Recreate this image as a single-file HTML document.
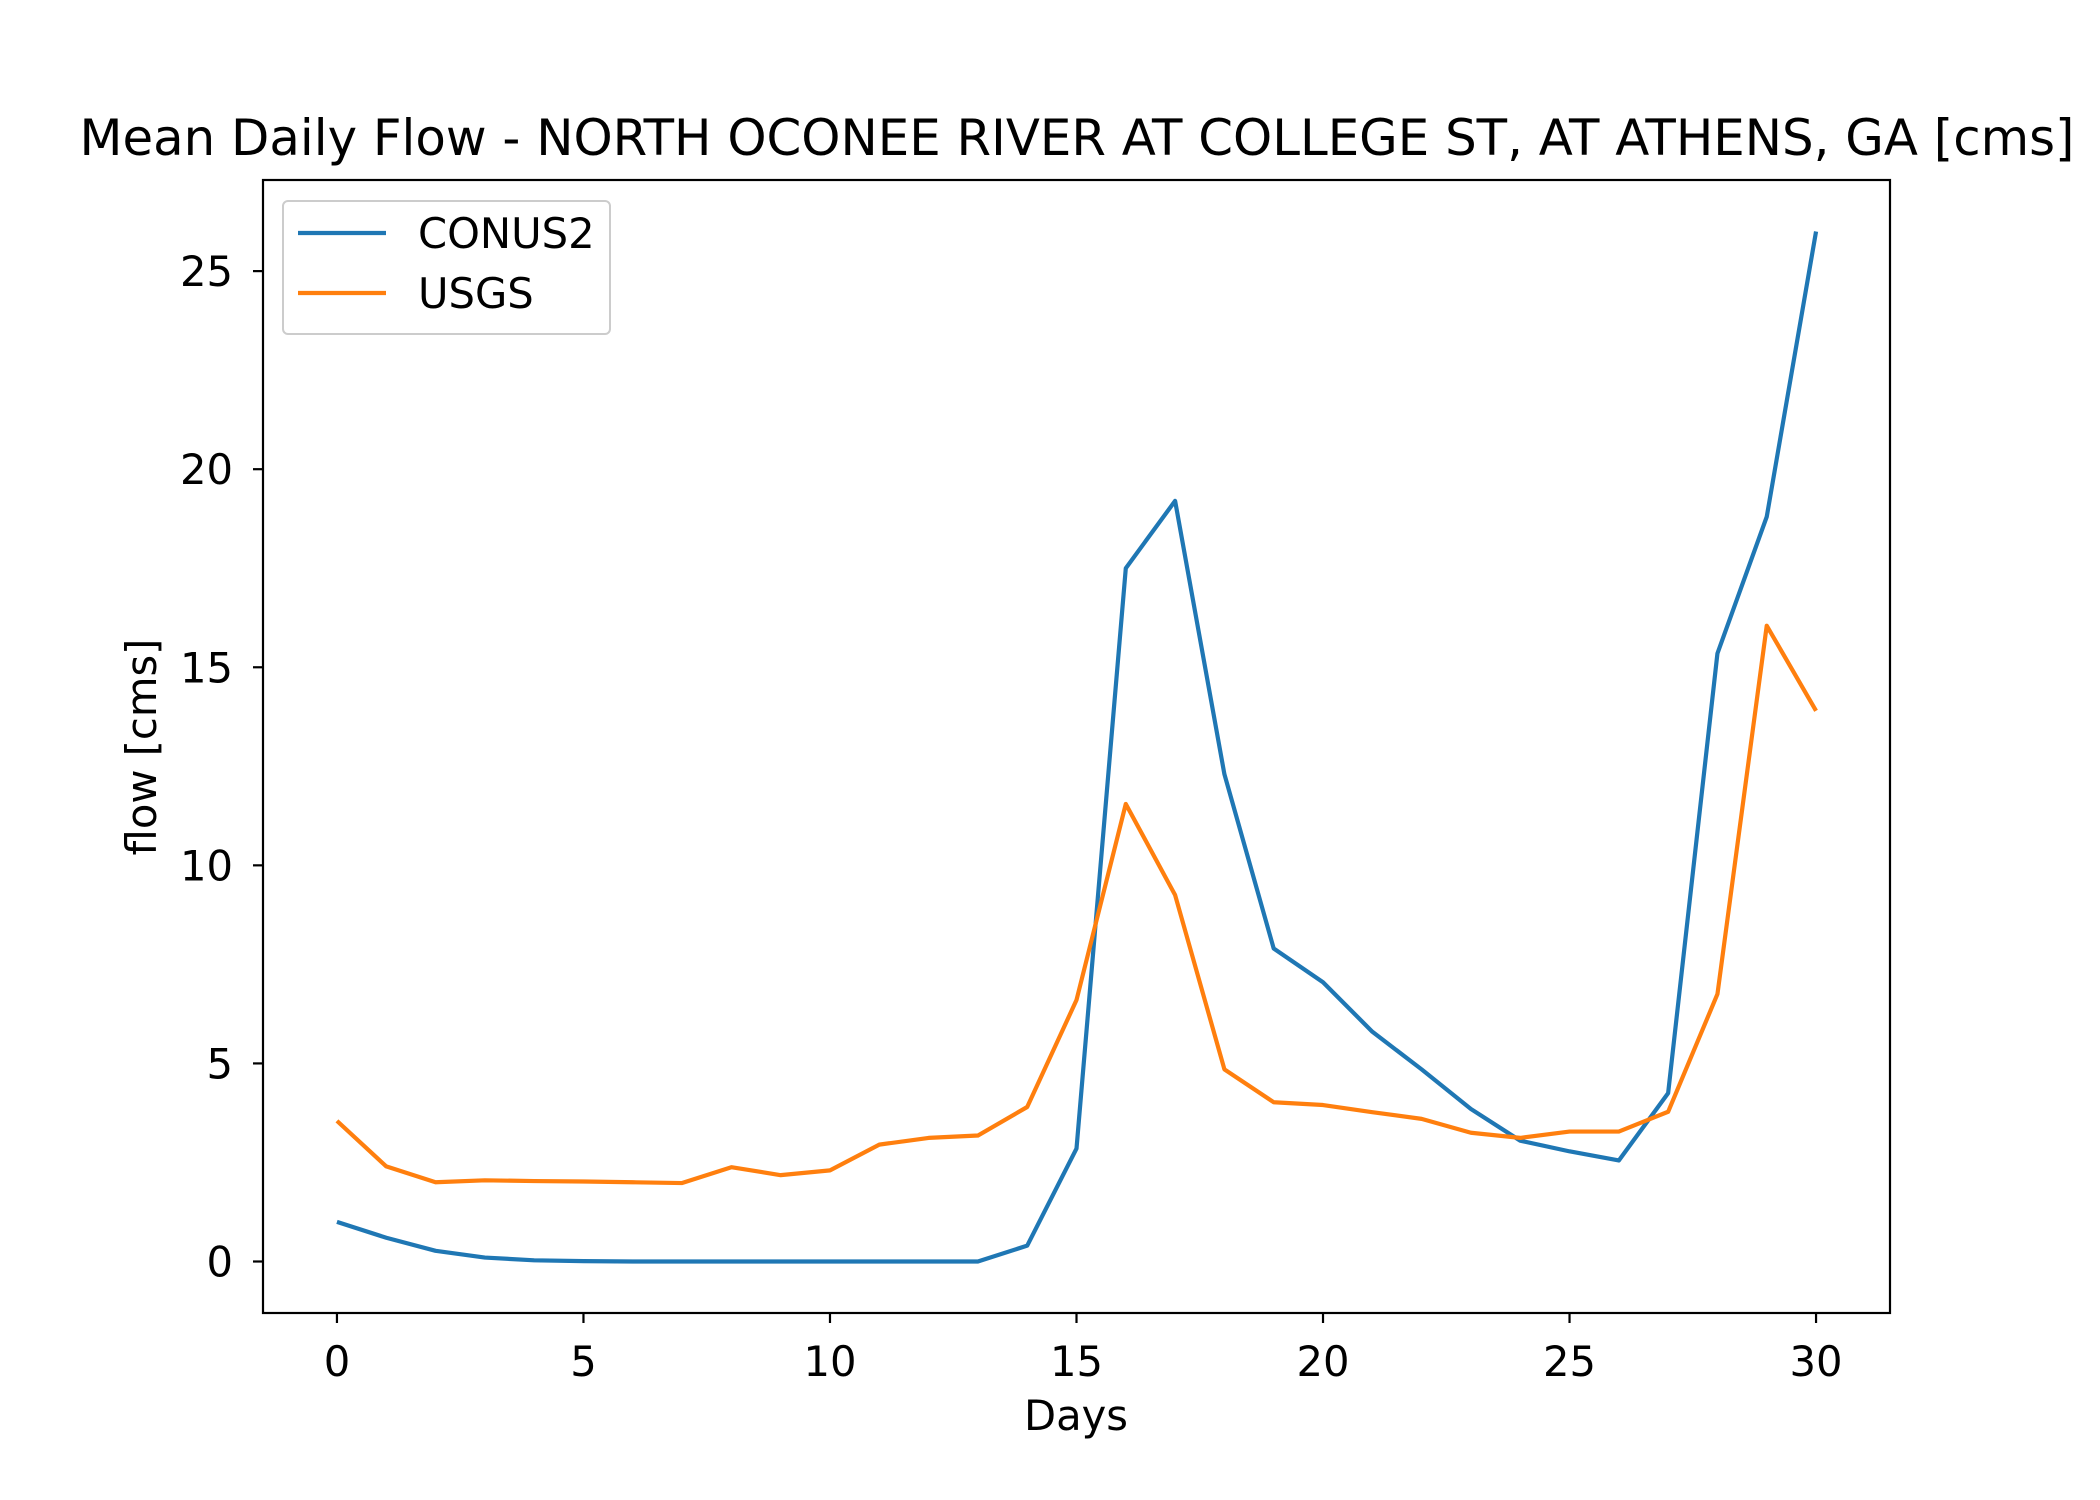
<!DOCTYPE html>
<html><head><meta charset="utf-8"><style>
html,body{margin:0;padding:0;background:#fff;}
svg{display:block;font-family:"DejaVu Sans","Liberation Sans",sans-serif;}
</style></head><body>
<svg id="chart" width="2100" height="1500" viewBox="0 0 2100 1500" xmlns="http://www.w3.org/2000/svg">
<rect x="0" y="0" width="2100" height="1500" fill="#fff"/>
<text x="1077" y="155" font-size="50" text-anchor="middle" textLength="1995" lengthAdjust="spacingAndGlyphs">Mean Daily Flow - NORTH OCONEE RIVER AT COLLEGE ST, AT ATHENS, GA [cms]</text>
<g id="plot"></g>
<text x="1076" y="1430" font-size="41.7" text-anchor="middle">Days</text>
<text x="0" y="0" font-size="41.7" text-anchor="middle" transform="translate(156,747) rotate(-90)">flow [cms]</text>
<g>
<rect x="283" y="201" width="327" height="133" rx="5" fill="#fff" stroke="#ccc" stroke-width="2"/>
<line x1="298" y1="233" x2="386" y2="233" stroke="#1f77b4" stroke-width="4.2"/>
<text x="418" y="248" font-size="41.7">CONUS2</text>
<line x1="298" y1="293" x2="386" y2="293" stroke="#ff7f0e" stroke-width="4.2"/>
<text x="418" y="308" font-size="41.7">USGS</text>
</g>
</svg>
<script>
const days = [0,1,2,3,4,5,6,7,8,9,10,11,12,13,14,15,16,17,18,19,20,21,22,23,24,25,26,27,28,29,30];
const conus2 = [1.0,0.6,0.27,0.1,0.03,0.01,0,0,0,0,0,0,0,0,0.4,2.85,17.5,19.2,12.3,7.9,7.05,5.8,4.85,3.85,3.05,2.78,2.55,4.25,15.35,18.8,26.0];
const usgs = [3.55,2.4,2.0,2.05,2.03,2.02,2.0,1.98,2.38,2.18,2.3,2.95,3.12,3.18,3.9,6.6,11.55,9.25,4.85,4.02,3.95,3.77,3.6,3.25,3.12,3.28,3.28,3.78,6.75,16.05,13.9];
const xTicks = [0,5,10,15,20,25,30];
const yTicks = [0,5,10,15,20,25];

const L=263,R=1890,T=180,B=1313;
const xMin=-1.5,xMax=31.5,yMin=-1.3,yMax=27.3;
const xs=v=>L+(v-xMin)/(xMax-xMin)*(R-L);
const ys=v=>B-(v-yMin)/(yMax-yMin)*(B-T);
const NS='http://www.w3.org/2000/svg';
const g=document.getElementById('plot');
function mk(tag,attrs){const e=document.createElementNS(NS,tag);for(const k in attrs)e.setAttribute(k,attrs[k]);g.appendChild(e);return e;}

function series(vals,color,name){
  const p=mk('polyline',{points:vals.map((v,i)=>xs(days[i])+','+ys(v)).join(' '),fill:'none',stroke:color,'stroke-width':4.2,'stroke-linejoin':'round'});
  
  
}
series(conus2,'#1f77b4','conus2-line');
series(usgs,'#ff7f0e','usgs-line');

const frame=mk('rect',{x:L,y:T,width:R-L,height:B-T,fill:'none',stroke:'#000','stroke-width':2.2});



xTicks.forEach(t=>{
  const x=xs(t);
  const tk=mk('line',{x1:x,y1:B,x2:x,y2:B+10,stroke:'#000','stroke-width':2.2});
  
  
  const lb=mk('text',{x:x,y:1376,'font-size':41.7,'text-anchor':'middle'});
  lb.textContent=t;
  
  
});
yTicks.forEach(t=>{
  const y=ys(t);
  const tk=mk('line',{x1:L-10,y1:y,x2:L,y2:y,stroke:'#000','stroke-width':2.2});
  
  
  const lb=mk('text',{x:233,y:y+15,'font-size':41.7,'text-anchor':'end'});
  lb.textContent=t;
  
  
});
</script>
</body></html>
